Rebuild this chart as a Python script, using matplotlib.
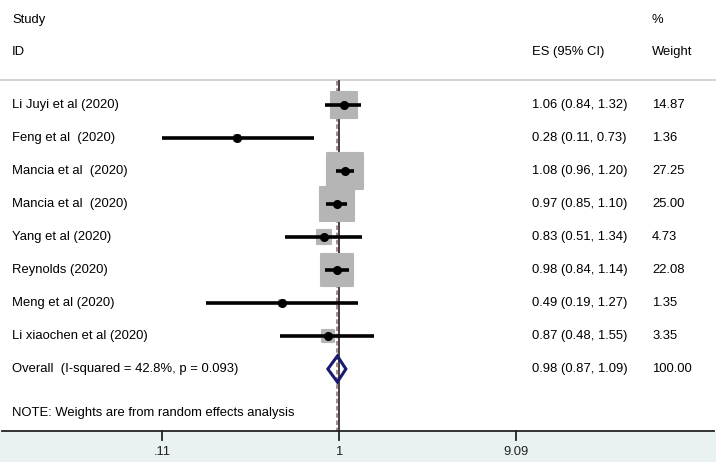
import numpy as np
import matplotlib.pyplot as plt
from matplotlib.markers import MarkerStyle
from matplotlib.patches import Polygon

plt.rcParams['font.family'] = ['Liberation Sans', 'DejaVu Sans']

studies = ["Li Juyi et al (2020)", "Feng et al  (2020)", "Mancia et al  (2020)",
           "Mancia et al  (2020)", "Yang et al (2020)", "Reynolds (2020)",
           "Meng et al (2020)", "Li xiaochen et al (2020)"]
es = [1.06, 0.28, 1.08, 0.97, 0.83, 0.98, 0.49, 0.87]
lo = [0.84, 0.11, 0.96, 0.85, 0.51, 0.84, 0.19, 0.48]
hi = [1.32, 0.73, 1.20, 1.10, 1.34, 1.14, 1.27, 1.55]
weights = [14.87, 1.36, 27.25, 25.00, 4.73, 22.08, 1.35, 3.35]

overall_label = "Overall  (I-squared = 42.8%, p = 0.093)"
overall_es, overall_lo, overall_hi = 0.98, 0.87, 1.09
xticks = [0.11, 1, 9.09]
xtick_labels = [".11", "1", "9.09"]

W, H = 716, 462
fig = plt.figure(figsize=(W / 100, H / 100), dpi=100)
ax = fig.add_axes([0, 0, 1, 1])
ax.set_xscale('log')
# 1 sits at x=339 px, 80 px per log unit
ax.set_xlim(np.exp(-339 / 80), np.exp((W - 339) / 80))
ax.set_ylim(H, 0)  # y in pixels from the top
ax.axis('off')

bt = ax.get_yaxis_transform()  # x in axes fraction, y in data
fs = 9.4
x_lab, x_es, x_wt = 12 / W, 532 / W, 652 / W

# bottom band and axis line
ax.axvspan(1e-9, 1e9, ymin=0, ymax=(H - 431) / H, color='#e9f1f3', zorder=0)
ax.plot([2 / W, 714 / W], [431, 431], transform=bt, color='#222222', lw=1.3, zorder=3)
for t, lab in zip(xticks, xtick_labels):
    ax.plot([t, t], [431, 440], color='#222222', lw=1.3, zorder=3)
    ax.text(t, 452, lab, ha='center', va='center', fontsize=fs, color='#222222')

# headers
ax.text(x_lab, 20, "Study", transform=bt, fontsize=fs, va='center')
ax.text(x_lab, 52, "ID", transform=bt, fontsize=fs, va='center')
ax.text(x_wt, 20, "%", transform=bt, fontsize=fs, va='center')
ax.text(x_wt, 52, "Weight", transform=bt, fontsize=fs, va='center')
ax.text(x_es, 52, "ES (95% CI)", transform=bt, fontsize=fs, va='center')
ax.plot([0, 1], [80, 80], transform=bt, color='#cccccc', lw=1.2)

# reference lines
ax.plot([1, 1], [81, 431], color='#333333', lw=1.3, zorder=2)
ax.plot([overall_es, overall_es], [81, 431], color='#a08080', lw=1.3,
        ls=(0, (2.5, 1.5)), zorder=2)

box_marker = MarkerStyle('s', joinstyle='round')
row_y = [105 + 33 * i for i in range(len(studies))]
for i, y in enumerate(row_y):
    side = 7.0 * np.sqrt(weights[i])  # pixels
    ax.plot(es[i], y, marker=box_marker, ms=side * 0.72 - 1, mfc='#b5b5b5',
            mec='#b5b5b5', mew=1.5, zorder=3)
    ax.plot([lo[i], hi[i]], [y, y], color='black', lw=2.6, zorder=4,
            solid_capstyle='butt')
    ax.plot(es[i], y, 'o', color='black', ms=5.5, zorder=5)
    ax.text(x_lab, y, studies[i], transform=bt, fontsize=fs, va='center')
    ax.text(x_es, y, "%.2f (%.2f, %.2f)" % (es[i], lo[i], hi[i]),
            transform=bt, fontsize=fs, va='center')
    ax.text(x_wt, y, "%.2f" % weights[i], transform=bt, fontsize=fs, va='center')

oy = 369
diamond = Polygon([[overall_lo, oy], [overall_es, oy - 13], [overall_hi, oy],
                   [overall_es, oy + 13]], closed=True, fc='none',
                  ec='#1a1a70', lw=2.2, zorder=5)
ax.add_patch(diamond)
ax.text(x_lab, oy, overall_label, transform=bt, fontsize=fs, va='center')
ax.text(x_es, oy, "%.2f (%.2f, %.2f)" % (overall_es, overall_lo, overall_hi),
        transform=bt, fontsize=fs, va='center')
ax.text(x_wt, oy, "100.00", transform=bt, fontsize=fs, va='center')

ax.text(x_lab, 413, "NOTE: Weights are from random effects analysis",
        transform=bt, fontsize=fs, va='center')

fig.savefig('out.png', dpi=100)
